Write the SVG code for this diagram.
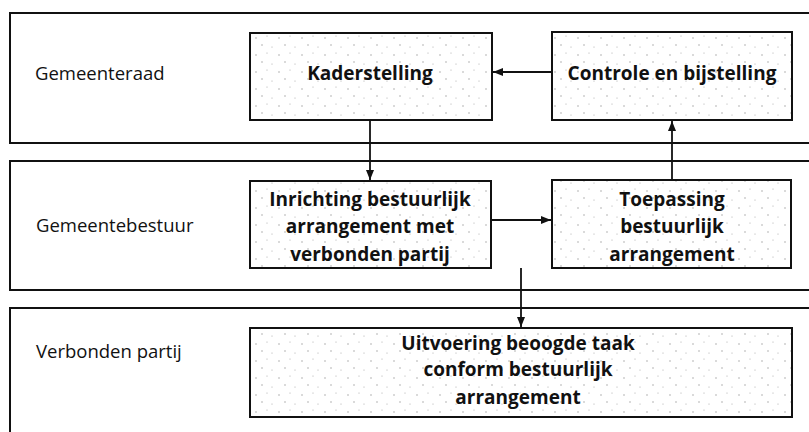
<svg xmlns="http://www.w3.org/2000/svg" width="809" height="432" viewBox="0 0 809 432">
<defs>
<pattern id="stip" width="23" height="17" patternUnits="userSpaceOnUse">
<rect width="23" height="17" fill="#fff"/>
<circle cx="3" cy="4" r="0.7" fill="#999"/>
<circle cx="14" cy="2" r="0.6" fill="#aaa"/>
<circle cx="9" cy="11" r="0.7" fill="#999"/>
<circle cx="19" cy="13" r="0.6" fill="#aaa"/>
</pattern>
<marker id="ah" viewBox="0 0 10 8" refX="10" refY="4" markerWidth="10" markerHeight="8" markerUnits="userSpaceOnUse" orient="auto">
<path d="M0,0 L10,4 L0,8 Z" fill="#111"/>
</marker>
<style>
.lane{fill:none;stroke:#111;stroke-width:2}
.box{fill:url(#stip);stroke:#111;stroke-width:2}
.lbl{font-family:"Open Sans",sans-serif;font-size:18.5px;fill:#111}
.bt{font-family:"Open Sans",sans-serif;font-size:19px;font-weight:bold;fill:#111;text-anchor:middle}
.con{fill:none;stroke:#111;stroke-width:1.8;marker-end:url(#ah)}
</style>
</defs>
<rect width="809" height="432" fill="#fff"/>
<g id="lane-gemeenteraad">
<path class="lane" d="M809,13 H10 V143 H809"/>
<text class="lbl" x="35" y="80">Gemeenteraad</text>
</g>
<g id="lane-gemeentebestuur">
<path class="lane" d="M809,161 H10 V290 H809"/>
<text class="lbl" x="36" y="232">Gemeentebestuur</text>
</g>
<g id="lane-verbonden">
<path class="lane" d="M809,308 H10 V432"/>
<text class="lbl" x="36" y="358">Verbonden partij</text>
</g>
<g id="kaderstelling">
<rect class="box" x="250" y="33" width="242" height="87"/>
<text class="bt" x="370" y="80">Kaderstelling</text>
</g>
<g id="controle">
<rect class="box" x="552" y="32" width="240" height="88"/>
<text class="bt" x="672" y="80">Controle en bijstelling</text>
</g>
<g id="inrichting">
<rect class="box" x="250" y="181" width="241" height="87"/>
<text class="bt" x="370" y="206">Inrichting bestuurlijk</text>
<text class="bt" x="370" y="233">arrangement met</text>
<text class="bt" x="370" y="261">verbonden partij</text>
</g>
<g id="toepassing">
<rect class="box" x="552" y="180" width="239" height="88"/>
<text class="bt" x="672" y="206">Toepassing</text>
<text class="bt" x="672" y="233">bestuurlijk</text>
<text class="bt" x="672" y="261">arrangement</text>
</g>
<g id="uitvoering">
<rect class="box" x="250" y="328" width="542" height="89"/>
<text class="bt" x="518" y="350">Uitvoering beoogde taak</text>
<text class="bt" x="518" y="376">conform bestuurlijk</text>
<text class="bt" x="518" y="404">arrangement</text>
</g>
<g id="connectors">
<line class="con" x1="552" y1="72" x2="493" y2="72"/>
<line class="con" x1="370" y1="120" x2="370" y2="180"/>
<line class="con" x1="491" y1="220" x2="551" y2="220"/>
<line class="con" x1="672" y1="180" x2="672" y2="121"/>
<line class="con" x1="521" y1="268" x2="521" y2="327"/>
</g>
</svg>
